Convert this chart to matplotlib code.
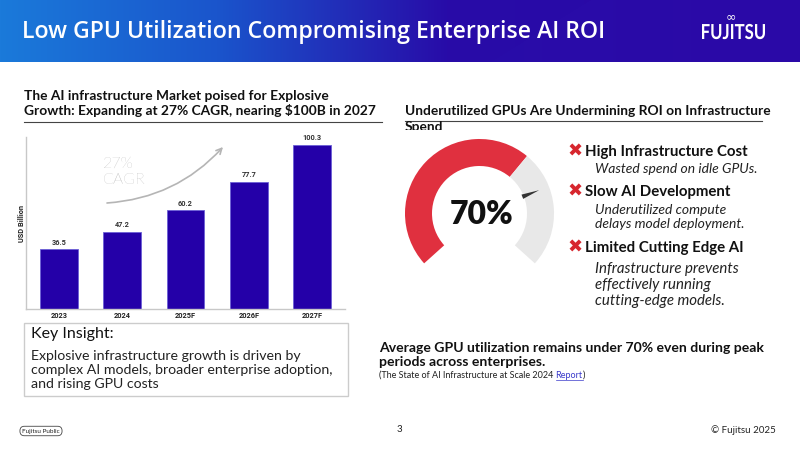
import numpy as np
import matplotlib
matplotlib.use('Agg')
import matplotlib.pyplot as plt
from matplotlib.patches import Wedge, Rectangle, Polygon, PathPatch
from matplotlib.textpath import TextPath
from matplotlib.font_manager import FontProperties
from matplotlib.transforms import Affine2D, Bbox, TransformedBbox

# ---------------- data ----------------
years = ['2023', '2024', '2025F', '2026F', '2027F']
market_usd_bn = [36.5, 47.2, 60.2, 77.7, 100.3]
cagr_label = '27%\nCAGR'
gpu_util_label = '70%'
gauge_fill_pct = 65      # red share of the dial as drawn
needle_pct = 76          # needle position on the dial as drawn
bullet_titles = ['High Infrastructure Cost', 'Slow AI Development', 'Limited Cutting Edge AI']
bullet_texts = ['Wasted spend on idle GPUs.',
                'Underutilized compute\ndelays model deployment.',
                'Infrastructure prevents\neffectively running\ncutting-edge models.']

title = 'Low GPU Utilization Compromising Enterprise AI ROI'
left_title = 'The AI infrastructure Market poised for Explosive\nGrowth: Expanding at 27% CAGR, nearing $100B in 2027'
right_title = 'Underutilized GPUs Are Undermining ROI on Infrastructure'
insight_head = 'Key Insight:'
insight_body = ('Explosive infrastructure growth is driven by\n'
                'complex AI models, broader enterprise adoption,\n'
                'and rising GPU costs')
util_note = ('Average GPU utilization remains under 70% even during peak\n'
             'periods across enterprises.')
source_pre = '(The State of AI Infrastructure at Scale 2024 '
source_link = 'Report'

plt.rcParams['font.family'] = ['Lato', 'DejaVu Sans']

fig = plt.figure(figsize=(8, 4.5), dpi=100)
fig.patch.set_facecolor('white')
ov = fig.add_axes([0, 0, 1, 1])
ov.set_xlim(0, 800)
ov.set_ylim(450, 0)
ov.axis('off')

# ---------------- header ----------------
H, W = 62, 800
xx, yy = np.meshgrid(np.arange(W), np.arange(H))
stops_t = [0.0, 0.3, 0.62, 1.0]
stops_c = np.array([[0x1b, 0x7a, 0xda], [0x1a, 0x55, 0xcc], [0x28, 0x0c, 0xa8], [0x2a, 0x08, 0xa6]]) / 255.0
t = np.clip(xx / 720.0, 0, 1)
img = np.zeros((H, W, 3))
for k in range(3):
    img[..., k] = np.interp(t, stops_t, stops_c[:, k])
diag = xx > (590 - (100.0 / 62.0) * yy)
img[diag] = img[diag] * 0.92 + np.array([0x2e, 0x1c, 0xb6]) / 255.0 * 0.08
ov.imshow(img, extent=(0, 800, 62, 0), aspect='auto', zorder=0)
ov.text(22, 32, title, color='white', fontsize=16.7, fontweight='semibold', va='center', ha='left',
        family=['Open Sans', 'DejaVu Sans'], zorder=3)

# FUJITSU logo (condensed text path)
fp = FontProperties(family='Lato', weight='bold')
tp = TextPath((0, 0), 'FUJITSU', size=20, prop=fp)
bb = tp.get_extents()
sx = 63.0 / bb.width
sy = 15.0 / 14.5
tr = Affine2D().translate(-bb.x0, 0).scale(sx, -sy).translate(702, 39) + ov.transData
ov.add_patch(PathPatch(tp, transform=tr, fc='white', ec='none', zorder=3))
ov.text(731, 17, '∞', color='white', fontsize=9, ha='center', va='center', family='DejaVu Sans', zorder=3)

# ---------------- section titles ----------------
ov.text(24, 103.5, left_title, fontsize=9.9, fontweight='bold', va='center', ha='left',
        linespacing=1.15, color='#111111')
ov.plot([24, 382], [122, 122], color='#444444', lw=0.8)
ov.text(405, 111, right_title, fontsize=9.9, fontweight='bold', va='center', ha='left', color='#111111')
sp = ov.text(405, 127, 'Spend', fontsize=9.9, fontweight='bold', va='center', ha='left', color='#111111')
sp.set_clip_box(TransformedBbox(Bbox([[0, 0], [800, 130]]), ov.transData))
sp.set_clip_on(True)
ov.plot([405, 762], [121, 121], color='#444444', lw=0.8)

# ---------------- bar chart ----------------
ax = fig.add_axes([26 / 800, (450 - 309) / 450, (345 - 26) / 800, (309 - 137) / 450])
ax.patch.set_alpha(0)
x = np.arange(len(years))
ax.bar(x, market_usd_bn, width=0.6, color='#2400a8', edgecolor='#6b5fd6', linewidth=0.6)
for xi, v in zip(x, market_usd_bn):
    ax.text(xi, v + 1.5, f'{v}', ha='center', va='bottom', fontsize=5.3, fontweight='bold',
            color='#333333', family='Roboto')
ax.set_xlim(-0.52, 4.52)
ax.set_ylim(0, 105)
ax.set_xticks(x)
ax.set_xticklabels(years, fontsize=5.3, fontweight='bold', family='Roboto', color='#222222')
ax.tick_params(axis='x', length=0, pad=2)
ax.set_yticks([])
for s in ['top', 'right']:
    ax.spines[s].set_visible(False)
for s in ['left', 'bottom']:
    ax.spines[s].set_color('#c8c8c8')
    ax.spines[s].set_linewidth(1)
ov.text(21.5, 223, 'USD Billion', rotation=90, fontsize=5.3, fontweight='bold', family='Roboto',
        ha='center', va='center', color='#222222')
ov.text(103, 172, cagr_label, fontsize=11.5, color='#9a9a9a', va='center', ha='left',
        linespacing=1.15, fontweight='light')
ov.annotate('', xy=(223, 147), xytext=(107, 203),
            arrowprops=dict(arrowstyle='->', color='#b5b5b5', lw=1.2,
                            connectionstyle='arc3,rad=0.2', shrinkA=0, shrinkB=0))

# ---------------- gauge ----------------
cx, cy, R, bw = 479.5, 213.5, 74.5, 27
a_start, a_end = 222.0, -42.0
span = a_start - a_end
a_fill = a_start - gauge_fill_pct / 100.0 * span
a_needle = a_start - needle_pct / 100.0 * span
# visual angle a -> data angle -a (y axis inverted)
ov.add_patch(Wedge((cx, cy), R, -a_start, -a_fill, width=bw, fc='#e0303f', ec='none'))
ov.add_patch(Wedge((cx, cy), R, -a_fill, -a_end, width=bw, fc='#e8e8e8', ec='none'))
ar = np.deg2rad(a_needle)
u = np.array([np.cos(ar), -np.sin(ar)])
n = np.array([np.sin(ar), np.cos(ar)])
c = np.array([cx, cy])
needle = [c + 46 * u + 2.3 * n, c + 46 * u - 2.3 * n, c + 64 * u]
ov.add_patch(Polygon(needle, closed=True, fc='#333333', ec='none'))
ov.text(482, 215, gpu_util_label, fontsize=23, fontweight='heavy', ha='center', va='center', color='#111111')

# ---------------- bullets ----------------
head_y = [152, 192, 248]
sub_y = [169, 217, 285]
sub_fs = [10, 10, 10.8]
for ty, sy_, hd, body, fs in zip(head_y, sub_y, bullet_titles, bullet_texts, sub_fs):
    ov.text(575.5, ty, '✖', fontsize=13, color='#d7262e', ha='center', va='center',
            family='DejaVu Sans')
    ov.text(585, ty, hd, fontsize=10.8, fontweight='bold', ha='left', va='center', color='#111111')
    ov.text(595, sy_, body, fontsize=fs, style='italic', ha='left', va='center', color='#222222',
            linespacing=1.15)

# ---------------- bottom ----------------
ov.add_patch(Rectangle((24, 323), 324, 73, fc='white', ec='#cccccc', lw=1))
ov.text(31, 334, insight_head, fontsize=11.5, ha='left', va='center', color='#111111')
ov.text(31, 370, insight_body, fontsize=10.2, ha='left', va='center', color='#222222', linespacing=1.2)

ov.text(379, 355, util_note, fontsize=10.1, fontweight='bold', ha='left', va='center',
        color='#111111', linespacing=1.15)
renderer = fig.canvas.get_renderer()
t1 = ov.text(379, 375, source_pre, fontsize=6.5, ha='left', va='center', color='#222222')
ext = t1.get_window_extent(renderer=renderer)
x_end = ov.transData.inverted().transform((ext.x1, ext.y0))[0]
t2 = ov.text(x_end, 375, source_link, fontsize=6.5, ha='left', va='center', color='#3a3acb')
ext2 = t2.get_window_extent(renderer=renderer)
x_end2 = ov.transData.inverted().transform((ext2.x1, ext2.y0))[0]
ov.plot([x_end, x_end2], [379.5, 379.5], color='#3a3acb', lw=0.5)
ov.text(x_end2, 375, ')', fontsize=6.5, ha='left', va='center', color='#222222')

# footer
ov.text(41, 431, 'Fujitsu Public', fontsize=4.6, ha='center', va='center', color='#222222',
        bbox=dict(boxstyle='round,pad=0.35,rounding_size=0.7', fc='white', ec='#444444', lw=0.6))
ov.text(399, 430, '3', fontsize=7, ha='center', va='center', color='#222222')
ov.text(776, 430, '© Fujitsu 2025', fontsize=7, ha='right', va='center', color='#222222')

fig.savefig('out.png', dpi=100)
